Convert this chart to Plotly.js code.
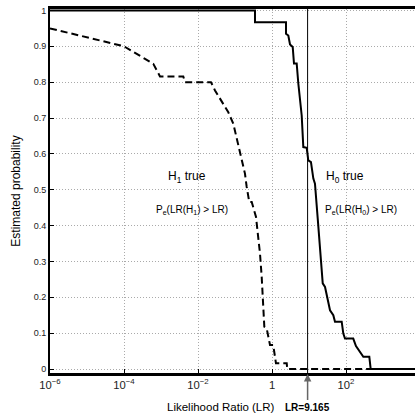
<!DOCTYPE html>
<html>
<head>
<meta charset="utf-8">
<script src="https://cdn.plot.ly/plotly-3.0.1.min.js"></script>
<style>
html,body{margin:0;padding:0;overflow:hidden;background:#fff;}
#chart{width:415px;height:420px;}
</style>
</head>
<body>
<div id="chart"></div>
<script>
// H0 true: Pe(LR(H0) > LR)  (solid)
var h0LR = [1e-6, 0.347, 0.347, 2.39, 2.39, 2.76, 3.07, 3.63, 3.93, 4.65, 5.14, 5.71, 6.35, 7.02, 8.67, 9.57, 11.3, 13.1, 14.5, 17.2, 22.0, 23.5, 27.1, 31.2, 37.0, 45.4, 50.4, 76.5, 84.6, 94.0, 157, 186, 229, 294, 427, 465, 1e4];
var h0P  = [1.0, 1.0, 0.967, 0.967, 0.935, 0.93, 0.905, 0.898, 0.852, 0.852, 0.797, 0.749, 0.707, 0.619, 0.617, 0.582, 0.577, 0.531, 0.517, 0.42, 0.294, 0.239, 0.229, 0.197, 0.164, 0.15, 0.132, 0.132, 0.099, 0.085, 0.085, 0.064, 0.05, 0.034, 0.034, 0, 0];

// H1 true: Pe(LR(H1) > LR)  (dashed)
var h1LR = [1e-6, 1e-4, 3.7e-4, 6.2e-4, 9.4e-4, 4.0e-3, 4.45e-3, 0.0224, 0.0288, 0.066, 0.09, 0.111, 0.151, 0.186, 0.207, 0.243, 0.283, 0.37, 0.386, 0.474, 0.527, 0.582, 0.62, 0.719, 0.883, 1.08, 1.2, 1.28, 2.5, 2.59, 1e4];
var h1P  = [0.95, 0.9, 0.865, 0.851, 0.816, 0.816, 0.8, 0.8, 0.777, 0.716, 0.684, 0.643, 0.587, 0.545, 0.508, 0.466, 0.466, 0.424, 0.406, 0.322, 0.257, 0.146, 0.118, 0.113, 0.067, 0.067, 0.039, 0.016, 0.016, 0, 0];

var lrThreshold = 9.165;
var yTickVals = [0, 0.1, 0.2, 0.3, 0.4, 0.5, 0.6, 0.7, 0.8, 0.9, 1];
var yTickText = ['0', '0.1', '0.2', '0.3', '0.4', '0.5', '0.6', '0.7', '0.8', '0.9', '1'];
var yRange = [-0.011, 1.004];
var xLogRange = [-6, 3.865];
var xTitle = 'Likelihood Ratio (LR)';
var yTitle = 'Estimated probability';

var labels = [
  {text: 'H<sub>1</sub> true', lr: 10 ** -2.3, p: 0.535, size: 12},
  {text: 'P<sub>e</sub>(LR(H<sub>1</sub>) > LR)', lr: 10 ** -2.16, p: 0.443, size: 10},
  {text: 'H<sub>0</sub> true', lr: 10 ** 1.97, p: 0.535, size: 12},
  {text: 'P<sub>e</sub>(LR(H<sub>0</sub>) > LR)', lr: 10 ** 2.41, p: 0.443, size: 10}
];

var FONT = 'Liberation Sans, Arial, Helvetica, sans-serif';

var traces = [
  {x: h1LR, y: h1P, type: 'scatter', mode: 'lines', line: {color: '#000', width: 2, dash: '7px,4px'}, hoverinfo: 'skip', showlegend: false},
  {x: h0LR, y: h0P, type: 'scatter', mode: 'lines', line: {color: '#000', width: 2}, hoverinfo: 'skip', showlegend: false},
  {x: [lrThreshold, lrThreshold], y: yRange, type: 'scatter', mode: 'lines', line: {color: '#000', width: 1}, hoverinfo: 'skip', showlegend: false}
];

var annotations = labels.map(function (l) {
  return {x: Math.log10(l.lr), y: l.p, xref: 'x', yref: 'y', text: l.text, showarrow: false,
          font: {family: FONT, size: l.size, color: '#000'}};
});
annotations.push({
  x: Math.log10(lrThreshold), y: 0, xref: 'x', yref: 'paper',
  text: '<b>LR=' + lrThreshold + '</b>', showarrow: true, ax: 0, ay: 34,
  arrowhead: 2, arrowsize: 1, arrowwidth: 1.5, arrowcolor: '#666', standoff: 1,
  font: {family: FONT, size: 10, color: '#000'}
});
// x-axis title, placed as in the reference (left of the LR marker label)
annotations.push({
  x: 0.468, y: -0.093, xref: 'paper', yref: 'paper', xanchor: 'center', yanchor: 'middle',
  text: xTitle, showarrow: false, font: {family: FONT, size: 11.5, color: '#000'}
});

var layout = {
  width: 415, height: 420,
  margin: {l: 50, r: 0, t: 9, b: 47},
  paper_bgcolor: '#fff', plot_bgcolor: '#fff',
  font: {family: FONT, color: '#000'},
  showlegend: false,
  xaxis: {
    type: 'log', range: xLogRange, dtick: 2, exponentformat: 'power',
    showline: true, linecolor: '#000', linewidth: 3, mirror: true,
    ticks: 'inside', ticklen: 4, tickcolor: '#000',
    showgrid: true, gridcolor: '#aaa', griddash: '1px,2px', gridwidth: 1,
    zeroline: false,
    tickfont: {family: FONT, size: 9, color: '#222'}
  },
  yaxis: {
    range: yRange, tickvals: yTickVals, ticktext: yTickText,
    showline: true, linecolor: '#000', linewidth: 2, mirror: false,
    ticks: 'inside', ticklen: 4, tickcolor: '#000',
    showgrid: true, gridcolor: '#aaa', griddash: '1px,2px', gridwidth: 1,
    zeroline: false,
    tickfont: {family: FONT, size: 9, color: '#222'},
    title: {text: yTitle, font: {family: FONT, size: 12, color: '#000'}, standoff: 10}
  },
  annotations: annotations
};

Plotly.newPlot('chart', traces, layout, {displayModeBar: false, staticPlot: true});
</script>
</body>
</html>
